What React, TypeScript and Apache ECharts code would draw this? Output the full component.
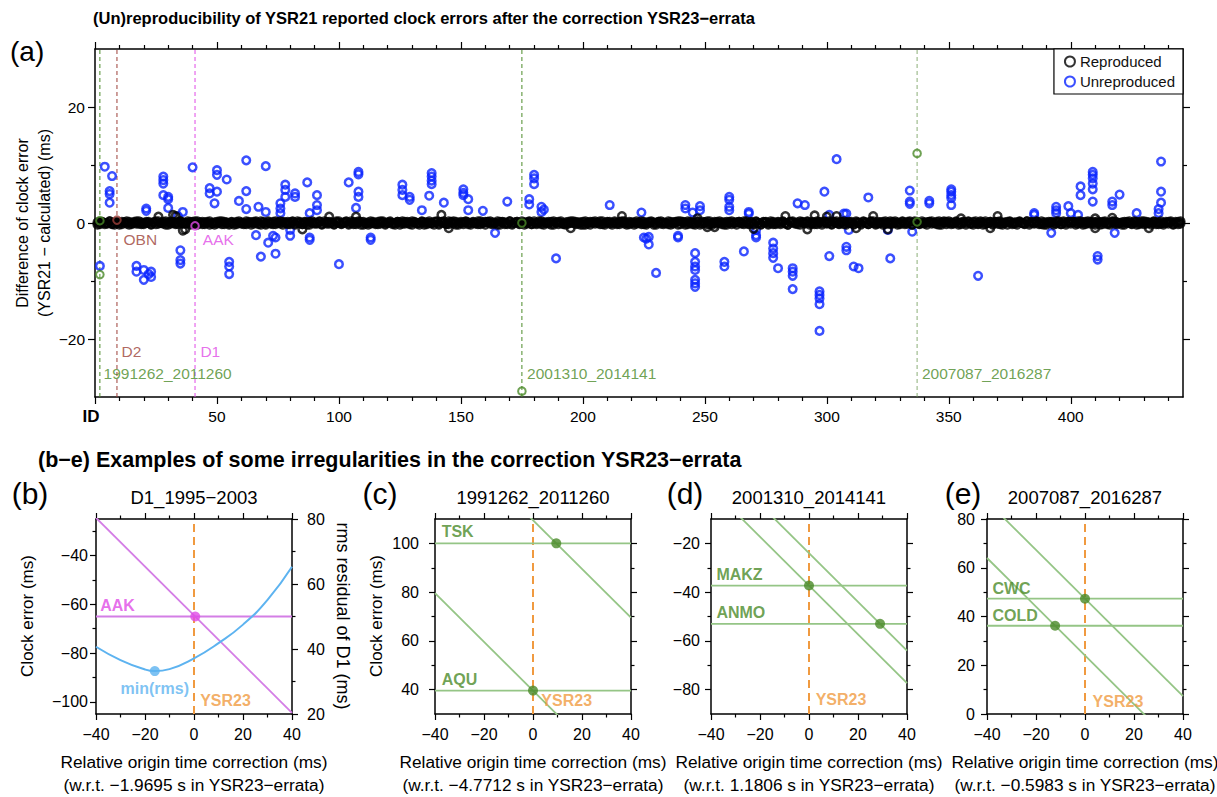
import React, { useEffect, useRef } from "react";
import * as echarts from "echarts";

const FONT = '"Liberation Sans", Arial, Helvetica, sans-serif';
const fmt = (v: number) => String(v).replace("-", "\u2212");

// ================= Panel (a) data =================
const idRange = [0, 446];
const diffRange = [-30, 30];
const idMajorTicks = [0, 50, 100, 150, 200, 250, 300, 350, 400];
const idTickLabels = [50, 100, 150, 200, 250, 300, 350, 400];
const diffMajorTicks = [-20, 0, 20];
const diffMinorTicks = [-10, 10];

// reproduced clock-error differences, first station of each event ID 1..445 (ms)
const reproducedBand = [
  0.1,-0.2,0.2,0,-0.1,0.3,-0.2,0.1,0,-0.3,0.2,0.1,-0.1,0.2,-0.2,0,0.3,-0.1,0.1,-0.2,
  0.2,0,-0.2,0.1,0.3,-0.1,0,0.2,-0.3,0.1,-0.1,0.2,0,-0.2,0.3,0.1,-0.1,0,0.2,-0.2,
  -0.1,0.3,0,-0.2,0.1,0.2,-0.3,0,0.1,-0.1,0.3,-0.2,0.2,0,-0.1,0.1,-0.3,0.2,0,0.1,
  0,-0.2,0.2,0.1,-0.1,0.3,0,-0.3,0.2,-0.1,0.1,0,-0.2,0.3,0.1,-0.1,0.2,0,-0.2,0.1,
  0.3,-0.1,0,0.2,-0.2,0.1,-0.3,0.2,0,0.1,-0.1,0.3,-0.2,0,0.2,-0.1,0.1,-0.2,0.3,0,
  -0.2,0.1,0.3,-0.1,0,0.2,-0.2,0.1,0.2,-0.3,0,0.1,-0.1,0.2,0,-0.2,0.3,0.1,-0.1,0,
  0.1,0,-0.3,0.2,0.1,-0.1,0.2,0,-0.2,0.3,0.1,-0.1,0,0.2,-0.3,0.1,0,-0.1,0.2,0.3,
  -0.1,0.2,0,-0.2,0.3,0.1,-0.1,0.2,-0.3,0,0.1,0.2,-0.2,0,0.1,-0.1,0.3,-0.2,0,0.2,
  0.2,-0.1,0.1,0,-0.3,0.2,0.1,-0.2,0,0.3,-0.1,0.1,0.2,-0.2,0,0.1,-0.1,0.3,-0.2,0,
  0,0.3,-0.2,0.1,0,-0.1,0.2,-0.3,0.1,0.2,0,-0.2,0.1,-0.1,0.3,0,0.2,-0.1,0.1,-0.3,
  -0.3,0.1,0.2,0,-0.1,0.1,0.3,-0.2,0,0.2,-0.1,0,0.1,-0.2,0.2,0.3,-0.1,0,-0.2,0.1,
  0.1,-0.1,0,0.3,-0.2,0,0.2,0.1,-0.3,0,0.2,-0.1,0.1,0,-0.2,0.2,-0.1,0.1,0.3,-0.2,
  0.2,0.1,-0.2,0,0.1,-0.3,0.2,0,-0.1,0.1,0.3,-0.2,0,0.2,-0.1,0,0.1,-0.3,0.2,0,
  -0.2,0,0.1,0.2,-0.1,0.3,0,-0.2,0.1,-0.1,0.2,0,-0.3,0.1,0.2,-0.1,0,0.2,-0.2,0.1,
  0,0.2,-0.1,-0.3,0.2,0.1,0,-0.2,0.3,0.1,-0.1,0.2,0,-0.1,0.1,-0.2,0.2,0,0.3,-0.1,
  0.3,-0.2,0.1,0,-0.1,0.2,-0.2,0.1,0,0.2,-0.3,0.1,0,-0.1,0.2,0.1,-0.2,0.3,0,-0.1,
  -0.1,0.1,0.2,-0.2,0,0.3,-0.1,0,0.1,-0.2,0.2,0,-0.1,0.3,-0.3,0.1,0.2,-0.1,0,0.1,
  0.1,0.2,-0.1,0,0.2,-0.3,0.1,0.3,-0.2,0,0.1,-0.1,0.2,0,-0.2,0.1,0,0.2,-0.1,-0.3,
  0,-0.1,0.3,0.1,-0.2,0,0.2,-0.1,0.1,0.2,-0.2,0,0.1,-0.3,0.2,0,-0.1,0.1,0.2,0,
  -0.2,0.3,0,0.1,-0.1,0.2,0,-0.2,0.1,-0.3,0.2,0.1,0,-0.1,0.3,-0.2,0.1,0,0.2,-0.1,
  0.2,0,-0.1,0.3,0.1,-0.2,0,0.2,-0.1,0.1,0,-0.3,0.2,0.1,-0.2,0,0.3,-0.1,0.1,0,
  0.1,-0.3,0.2,0,-0.1,0.1,0.2,-0.2,0,0.3,-0.1,0.1,0,0.2,-0.2,0.1,-0.1,0,0.2,-0.1,
  0.1,-0.2,0,0.2,-0.1,
];

// reproduced clock-error differences, second station of each event ID 1..445 (ms)
const reproducedBand2 = [
  -0.3,0.2,0.1,-0.2,0,0.3,-0.1,-0.3,0.2,0,-0.2,0.1,0.3,-0.3,0,0.2,-0.1,0.3,-0.2,0,
  0,0.2,-0.3,0.1,-0.2,0.3,0,-0.1,0.3,-0.3,0.2,0,-0.2,0.1,0.3,-0.1,0,0.3,-0.3,0.2,
  0.3,-0.3,0.1,0.2,-0.2,0,0.3,-0.1,-0.3,0.2,0,0.3,-0.2,0.1,-0.3,0.2,0,-0.2,0.3,-0.1,
  -0.2,0.3,0,-0.3,0.2,0.1,-0.2,0.3,0,-0.3,0.3,-0.1,0.2,-0.2,0,0.3,-0.3,0.1,0.2,-0.2,
  0.2,-0.3,0.3,0,-0.2,0.2,0.1,-0.3,0.3,-0.1,0,0.2,-0.3,0.3,-0.1,0.2,0,-0.3,0.1,0.3,
  -0.1,0,0.2,-0.3,0.3,-0.2,0.1,0.3,-0.3,0.2,-0.1,-0.3,0.3,0,-0.2,0.2,-0.1,0.3,-0.3,0.1,
  0.3,-0.2,0,0.2,-0.3,0.3,-0.1,0.2,0.1,-0.3,0.2,0,-0.3,0.3,0.1,-0.2,0.3,0,-0.3,0.2,
  -0.3,0.1,0.3,-0.1,-0.2,0.2,0.3,-0.3,0,0.2,-0.2,0.3,0.1,-0.3,0.2,0,-0.2,0.3,0.1,-0.3,
  0.2,0.3,-0.2,0,0.3,-0.3,0.2,0.1,-0.2,0.3,-0.3,0,0.2,-0.1,0.3,-0.3,0.1,0.2,-0.2,0.3,
  -0.2,0,0.3,-0.3,0.1,0.2,-0.3,0.3,0,-0.2,0.3,-0.1,-0.3,0.2,0,0.3,-0.2,0.1,-0.3,0.2,
  0.3,-0.1,-0.3,0.2,0.3,0,-0.2,0.3,-0.3,0.1,0.2,-0.3,0.3,0,-0.2,0.1,0.3,-0.3,0.2,0,
  -0.3,0.3,0.1,-0.2,0.2,-0.3,0,0.3,0.1,-0.3,0.2,0.3,-0.2,0,0.3,-0.3,0.1,0.2,-0.3,0.3,
  0.1,-0.3,0.3,0.2,-0.2,0,0.3,-0.3,0.2,0.1,-0.2,0.3,-0.3,0,0.2,0.3,-0.2,0.1,-0.3,0.2,
  0.3,0.1,-0.3,0.2,0,-0.2,0.3,-0.1,0.2,-0.3,0.3,0,-0.2,0.2,0.1,-0.3,0.3,-0.2,0,0.2,
  -0.2,0.3,0,-0.3,0.2,0.3,-0.1,0.1,-0.3,0.2,0,0.3,-0.3,0.2,-0.2,0.3,0.1,-0.3,0.2,0,
  0,-0.3,0.2,0.3,-0.2,0.1,0.3,-0.3,0.2,0,-0.2,0.3,0.1,-0.3,0.3,0,-0.2,0.2,0.3,-0.3,
  0.2,0,-0.3,0.3,0.1,-0.2,0.2,0.3,-0.3,0,0.3,-0.2,0.2,0.1,-0.3,0.3,0,-0.2,0.3,-0.1,
  -0.3,0.2,0.3,0,-0.2,0.3,-0.3,0.1,0.2,0.3,-0.2,0,0.3,-0.3,0.1,0.2,-0.3,0.3,-0.1,0.2,
  0.3,-0.2,0.1,-0.3,0.3,0,0.2,-0.3,0.2,-0.1,0.3,-0.3,0,0.2,0.3,-0.2,0.1,-0.3,0.3,0,
  -0.1,0.3,-0.3,0.2,0,0.3,-0.2,0.3,-0.3,0.1,0,0.2,-0.3,0.3,0.1,-0.2,0.3,-0.3,0.2,0.1,
  0.2,-0.3,0.3,0,-0.3,0.2,0.3,-0.1,0.2,-0.3,0.3,0.1,-0.2,0.3,0,-0.3,0.2,0.3,-0.2,0,
  -0.3,0.2,0,0.3,-0.2,0.3,-0.3,0.1,0.3,-0.2,0.2,0,-0.3,0.3,0.1,-0.2,0.3,-0.3,0,0.2,
  0.3,-0.3,0.2,-0.2,0.3,
];

// reproduced points that deviate visibly from the band [ID, ms]
const reproducedOutliers = [
  [26,1.1],[32,1.4],[33,1.2],[37,-1.1],[36,-1.3],[85,-1.1],[96,1.1],[107,1.1],[142,1.4],[145,-0.9],
  [195,-0.9],[216,1.2],[247,0.8],[251,-0.7],[254,-0.7],[270,-1.0],[283,1.2],[292,-1.1],[295,1.3],
  [300,1.1],[304,1.2],[312,-0.9],[319,1.2],[325,-1.1],[355,0.8],[367,-0.9],[370,1.2],[410,-0.9],
  [410,0.8],[417,0.9],[432,-0.9],
];

// unreproduced points [ID, ms]
const unreproduced = [
  [2,-7.4],[4,9.7],[6,5.5],[6,5.0],[6,3.5],[7,8.1],
  [17,-7.4],[17,-8.4],[20,-8.1],[20,-9.8],[22,-8.8],[23,-8.4],[23,-9.3],
  [21,2.5],[21,2.1],[28,8.0],[28,7.4],[28,6.8],[28,4.8],[30,4.5],[30,4.1],[30,2.6],
  [35,-4.7],[35,-6.4],[35,-7.0],[36,1.9],[34,1.2],[40,9.6],
  [47,6.0],[47,5.1],[49,3.4],[50,9.1],[50,8.3],[50,5.4],[54,7.5],
  [55,-6.7],[55,-7.5],[55,-8.8],[59,3.8],[62,10.8],[62,5.5],[62,2.4],
  [66,-2.1],[67,2.8],[68,-5.8],[70,9.8],[70,1.9],[71,-3.4],[73,-2.2],[74,-5.3],[74,-2.5],
  [76,3.4],[76,2.5],[76,1.7],[78,6.6],[78,5.7],[78,4.5],[80,-1.2],[80,-2.2],[82,5.1],[82,4.5],
  [87,7.0],[88,1.7],[88,-2.5],[88,-2.9],[91,4.8],[91,3.1],[91,2.2],[100,-7.1],
  [104,7.0],[107,2.6],[108,8.8],[108,8.4],[108,5.4],[108,4.5],[113,-2.5],[113,-2.9],
  [126,6.6],[126,5.7],[126,4.8],[129,4.5],[129,4.0],[134,2.2],[137,4.7],
  [138,8.6],[138,8.0],[138,7.3],[138,6.7],[143,3.5],[151,5.8],[151,5.2],[151,4.8],
  [153,4.1],[153,2.2],[159,2.1],[164,-1.7],[169,3.7],[178,4.1],[178,3.2],
  [180,8.3],[180,7.7],[180,6.7],[183,2.8],[184,2.3],[183,1.9],[189,-6.1],[211,3.1],
  [224,1.8],[225,-2.5],[226,-2.7],[227,-2.4],[227,-3.7],[230,-8.6],[239,-2.2],[239,-2.5],
  [242,3.1],[242,2.5],[245,1.8],
  [246,-5.2],[246,-6.7],[246,-7.5],[246,-8.1],[246,-9.8],[246,-10.4],[246,-11.0],
  [248,2.9],[248,2.2],[258,-6.7],[258,-7.5],[260,4.5],[260,4.0],[260,2.8],[260,2.2],
  [266,-4.9],[268,1.9],[268,1.6],[271,-1.2],[271,-2.1],[271,-2.5],
  [278,-3.4],[278,-4.4],[278,-5.2],[278,-6.0],[280,-7.8],
  [286,-7.8],[286,-8.4],[286,-9.1],[286,-11.4],[288,3.4],[291,3.1],
  [297,-11.8],[297,-12.4],[297,-13.0],[297,-14.0],[297,-18.6],[299,5.4],
  [301,-5.7],[301,1.4],[304,11.0],[307,1.6],[308,1.6],[308,-4.1],[308,-4.7],[309,-1.2],
  [311,-7.5],[313,-7.8],[317,4.4],[325,-1.2],[326,-6.1],
  [334,5.6],[334,3.7],[334,3.3],[335,-1.5],[342,3.8],[342,3.4],
  [351,5.8],[351,5.4],[351,4.8],[351,4.3],[351,3.1],[362,-9.1],
  [385,1.7],[385,1.4],[392,-1.7],[394,2.8],[394,2.2],[394,1.7],[399,2.9],[400,1.7],[403,1.4],
  [404,6.3],[404,4.8],[409,8.8],[409,8.3],[409,7.7],[409,6.8],[409,5.8],[409,3.7],
  [411,-5.7],[411,-6.3],[417,3.7],[417,3.1],[418,-1.7],[420,4.9],[427,1.7],
  [436,2.4],[436,1.7],[437,10.6],[437,5.4],[437,3.5],
];

// highlighted events / stations
const greenEventPoints = [[2,0.4],[2,-8.9],[175,0],[175,-29],[337,12],[337,0.2]];
const brownEventPoints = [[9,0.5]];
const magentaEventPoints = [[41,-0.5]];
const greenMarkerIds = [2, 175];
const greenMarkerIdsThin = [337];
const brownMarkerIds = [9];
const magentaMarkerIds = [41];
const annotationsA = [
  { name: "OBN", value: [11.5, -2.9], c: "brown" },
  { name: "AAK", value: [44, -2.9], c: "magenta" },
  { name: "D2", value: [10.7, -22.2], c: "brown" },
  { name: "D1", value: [43, -22.2], c: "magenta" },
  { name: "1991262_2011260", value: [3.3, -26], c: "green" },
  { name: "2001310_2014141", value: [176.9, -26], c: "green" },
  { name: "2007087_2016287", value: [338.8, -26], c: "green" },
];

// ================= Panels (b)-(e) data =================
const corrRange = [-40, 40];
const corrMajor = [-40, -20, 0, 20, 40];
const corrMinor = [-30, -10, 10, 30];

// (b) D1_1995-2003
const bClockRange = [-105, -25];
const bClockMajor = [-100, -80, -60, -40];
const bClockMinor = [-90, -70, -50, -30];
const bRmsRange = [20, 80];
const bRmsMajor = [20, 40, 60, 80];
const bRmsMinor = [30, 50, 70];
const aakClock = -65;
const aakLine = [[-40, -24.5], [40, -104.5]];
const aakPoint = [0.5, -65];
const rmsCorrection = [-40, -30, -20, -16, -10, 0, 10, 20, 30, 40];
const rmsValues = [40.7, 36.6, 33.7, 33.2, 33.8, 37.1, 41.8, 47.5, 55.1, 65.3];
const rmsMin = [-16, 33.2];

// (c) 1991262_2011260
const cRange = [30, 110];
const cMajor = [40, 60, 80, 100];
const cMinor = [50, 70, 90];
const cStations = [{ name: "TSK", clock: 100 }, { name: "AQU", clock: 39.6 }];
const cLines = [[[-40, 149.5], [40, 69.5]], [[-40, 79.6], [40, -0.4]]];
const cPoints = [[9.5, 100], [0, 39.6]];

// (d) 2001310_2014141
const dRange = [-90, -10];
const dMajor = [-80, -60, -40, -20];
const dMinor = [-70, -50, -30];
const dStations = [{ name: "MAKZ", clock: -37.3 }, { name: "ANMO", clock: -53 }];
const dLines = [[[-40, 2.7], [40, -77.3]], [[-40, 16], [40, -64]]];
const dPoints = [[0, -37.3], [29, -53]];

// (e) 2007087_2016287
const eRange = [0, 80];
const eMajor = [0, 20, 40, 60, 80];
const eMinor = [10, 30, 50, 70];
const eStations = [{ name: "CWC", clock: 47.3 }, { name: "COLD", clock: 36.2 }];
const eLines = [[[-40, 87.3], [40, 7.3]], [[-40, 64], [40, -16]]];
const ePoints = [[0, 47.3], [-12.2, 36.2]];

// ================= styles =================
const C = {
  blue: "#0a24ff",
  green: "#4a8a28",
  greenLine: "#6f9a55",
  brown: "#9c3f38",
  magenta: "#e04ae6",
  magentaLine: "#d47ee6",
  sky: "#5db3f0",
  orange: "#f09a40",
  lightGreen: "#95c586",
};

function buildOption() {
  const xAxes: any[] = [];
  const yAxes: any[] = [];
  const axis = (list: any[], gridIndex: number, position: string, range: number[], ticks: number[], len: number, o: any = {}) => {
    list.push({
      type: "value",
      gridIndex,
      position,
      min: range[0],
      max: range[1],
      splitLine: { show: false },
      axisPointer: { show: false },
      axisLine: { show: !!o.frame, onZero: false, lineStyle: { color: "#000", width: 1.5 } },
      axisTick: { show: true, customValues: ticks, length: len, lineStyle: { color: "#000", width: 1.2 } },
      axisLabel: o.labels
        ? { show: true, customValues: o.labels, formatter: (v: number) => fmt(v), margin: o.margin ?? 8, fontSize: o.fontSize ?? 15, color: "#000", fontFamily: FONT }
        : { show: false },
    });
    return list.length - 1;
  };

  const grids = [
    { left: 95, top: 49, width: 1088, height: 348 },
    { left: 96, top: 519, width: 196, height: 195 },
    { left: 435, top: 519, width: 196, height: 195 },
    { left: 711, top: 519, width: 196, height: 195 },
    { left: 987, top: 519, width: 196, height: 195 },
  ];

  const idMinor: number[] = [];
  for (let v = 10; v <= 440; v += 10) if (v % 50 !== 0) idMinor.push(v);

  // panel (a) axes
  const ax = axis(xAxes, 0, "bottom", idRange, idMajorTicks, 7, { frame: true, labels: idTickLabels, margin: 11, fontSize: 15.5 });
  axis(xAxes, 0, "bottom", idRange, idMinor, 4);
  axis(xAxes, 0, "top", idRange, idMajorTicks, 7, { frame: true });
  axis(xAxes, 0, "top", idRange, idMinor, 4);
  const ay = axis(yAxes, 0, "left", diffRange, diffMajorTicks, 7, { frame: true, labels: diffMajorTicks, margin: 10, fontSize: 15.5 });
  axis(yAxes, 0, "left", diffRange, diffMinorTicks, 4);
  axis(yAxes, 0, "right", diffRange, diffMajorTicks, 7, { frame: true });
  axis(yAxes, 0, "right", diffRange, diffMinorTicks, 4);

  const series: any[] = [];
  const vline = (xi: number, yi: number, x: number, range: number[], color: string, width: number, dash: number[]) => ({
    type: "line", xAxisIndex: xi, yAxisIndex: yi, data: [[x, range[0]], [x, range[1]]],
    symbol: "none", silent: true, lineStyle: { color, width, type: dash }, z: 2,
  });
  const segLine = (xi: number, yi: number, data: number[][], color: string, width: number, smooth = false) => ({
    type: "line", xAxisIndex: xi, yAxisIndex: yi, data, symbol: "none", silent: true, smooth,
    lineStyle: { color, width }, clip: true, z: 3,
  });
  const ring = (xi: number, yi: number, name: string | undefined, data: number[][], color: string, size = 7.6, z = 4, bw = 2.5) => ({
    type: "scatter", name, xAxisIndex: xi, yAxisIndex: yi, data, symbol: "circle", symbolSize: size,
    itemStyle: { color: "rgba(0,0,0,0)", borderColor: color, borderWidth: bw }, emphasis: { disabled: true }, silent: true, z,
  });
  const dot = (xi: number, yi: number, data: number[][], color: string) => ({
    type: "scatter", xAxisIndex: xi, yAxisIndex: yi, data, symbol: "circle", symbolSize: 10,
    itemStyle: { color }, emphasis: { disabled: true }, silent: true, z: 6,
  });
  const labels = (xi: number, yi: number, items: any[], fontSize: number, bold: boolean, position = "right") => ({
    type: "scatter", xAxisIndex: xi, yAxisIndex: yi, symbolSize: 1, silent: true, z: 7,
    itemStyle: { color: "rgba(0,0,0,0)" },
    data: items.map((it) => ({ name: it.name, value: it.value, label: { color: it.color } })),
    label: { show: true, position, distance: 0, formatter: "{b}", fontSize, fontWeight: bold ? "bold" : "normal", fontFamily: FONT },
  });

  greenMarkerIds.forEach((id) => series.push(vline(ax, ay, id, diffRange, C.green, 1, [4, 3])));
  greenMarkerIdsThin.forEach((id) => series.push(vline(ax, ay, id, diffRange, C.greenLine, 0.8, [4, 3])));
  brownMarkerIds.forEach((id) => series.push(vline(ax, ay, id, diffRange, C.brown, 1, [4, 3])));
  magentaMarkerIds.forEach((id) => series.push(vline(ax, ay, id, diffRange, C.magenta, 1, [4, 3])));

  series.push(ring(ax, ay, "Unreproduced", unreproduced, C.blue));
  const reproduced = reproducedBand
    .map((v, i) => [i + 1, v])
    .concat(reproducedBand2.map((v, i) => [i + 1, v]))
    .concat(reproducedOutliers);
  series.push(ring(ax, ay, "Reproduced", reproduced, "#000", 7.6, 5));
  series.push(ring(ax, ay, undefined, greenEventPoints, C.green, 7.6, 6, 2));
  series.push(ring(ax, ay, undefined, brownEventPoints, C.brown, 7.6, 6, 2));
  series.push(ring(ax, ay, undefined, magentaEventPoints, C.magenta, 7.6, 6, 2));
  series.push(
    labels(ax, ay, annotationsA.map((a) => ({ name: a.name, value: a.value, color: (C as any)[a.c] })), 15.5, false)
  );

  // bottom panels
  const panels = [
    { range: bClockRange, major: bClockMajor, minor: bClockMinor, margin: 8, rms: true },
    { range: cRange, major: cMajor, minor: cMinor, margin: 16 },
    { range: dRange, major: dMajor, minor: dMinor, margin: 11 },
    { range: eRange, major: eMajor, minor: eMinor, margin: 12 },
  ];
  const idx = panels.map((p: any, i) => {
    const g = i + 1;
    const x = axis(xAxes, g, "bottom", corrRange, corrMajor, 6, { frame: true, labels: corrMajor, margin: 12, fontSize: 16 });
    axis(xAxes, g, "bottom", corrRange, corrMinor, 3.5);
    axis(xAxes, g, "top", corrRange, corrMajor, 6, { frame: true });
    axis(xAxes, g, "top", corrRange, corrMinor, 3.5);
    const y = axis(yAxes, g, "left", p.range, p.major, 6, { frame: true, labels: p.major, margin: p.margin, fontSize: 16 });
    axis(yAxes, g, "left", p.range, p.minor, 3.5);
    let y2 = -1;
    if (p.rms) {
      y2 = axis(yAxes, g, "right", bRmsRange, bRmsMajor, 6, { frame: true, labels: bRmsMajor, margin: 15, fontSize: 16 });
      axis(yAxes, g, "right", bRmsRange, bRmsMinor, 3.5);
    } else {
      axis(yAxes, g, "right", p.range, p.major, 6, { frame: true });
      axis(yAxes, g, "right", p.range, p.minor, 3.5);
    }
    series.push(vline(x, y, 0, p.range, C.orange, 2, [8, 5]));
    return { x, y, y2 };
  });

  // (b)
  {
    const { x, y, y2 } = idx[0];
    series.push(segLine(x, y, [[corrRange[0], aakClock], [corrRange[1], aakClock]], C.magentaLine, 1.8));
    series.push(segLine(x, y, aakLine, C.magentaLine, 1.8));
    series.push(segLine(x, y2, rmsCorrection.map((c, i) => [c, rmsValues[i]]), C.sky, 2, true));
    series.push(dot(x, y2, [rmsMin], C.sky));
    series.push(dot(x, y, [aakPoint], C.magenta));
    series.push(labels(x, y, [{ name: "AAK", value: [-38.5, -60.5], color: C.magenta }, { name: "YSR23", value: [2.3, -99.5], color: C.orange }], 16, true));
    series.push(labels(x, y2, [{ name: "min(rms)", value: [-16, 28], color: C.sky }], 16, true, "inside"));
  }
  const stationPanel = (k: number, stations: any[], lines: number[][][], pts: number[][], labelPos: number[][], ysrPos: number[]) => {
    const { x, y } = idx[k];
    stations.forEach((s) => series.push(segLine(x, y, [[corrRange[0], s.clock], [corrRange[1], s.clock]], C.lightGreen, 1.8)));
    lines.forEach((l) => series.push(segLine(x, y, l, C.lightGreen, 1.8)));
    series.push(dot(x, y, pts, C.green));
    series.push(
      labels(x, y, stations.map((s, i) => ({ name: s.name, value: labelPos[i], color: C.green })).concat([{ name: "YSR23", value: ysrPos, color: C.orange }]), 16, true)
    );
  };
  stationPanel(1, cStations, cLines, cPoints, [[-37.5, 104.7], [-37.5, 44.1]], [3.2, 35.6]);
  stationPanel(2, dStations, dLines, dPoints, [[-38, -32.8], [-38, -48.4]], [2.5, -84.2]);
  stationPanel(3, eStations, eLines, ePoints, [[-38, 51.6], [-38, 40.6]], [2.9, 5.0]);

  const T = (text: string, x: number, y: number, font: string, o: any = {}) => ({
    type: "text", x, y, rotation: o.rotation || 0, silent: true, z: 10,
    style: {
      text, font, fill: o.fill || "#000",
      textAlign: o.align || "center", align: o.align || "center",
      textVerticalAlign: "middle", verticalAlign: "middle",
      lineHeight: o.lineHeight,
    },
  });
  const graphics: any[] = [
    T("(a)", 10, 51, `28px ${FONT}`, { align: "left" }),
    T("(Un)reproducibility of YSR21 reported clock errors after the correction YSR23\u2212errata", 93, 18, `bold 16.5px ${FONT}`, { align: "left" }),
    T("ID", 91, 416, `bold 17px ${FONT}`),
    T("Difference of clock error\n(YSR21 \u2212 calculated) (ms)", 33, 223, `16px ${FONT}`, { rotation: Math.PI / 2, lineHeight: 22 }),
    T("(b\u2212e) Examples of some irregularities in the correction YSR23\u2212errata", 38, 460, `bold 21.5px ${FONT}`, { align: "left" }),
    T("Clock error (ms)", 27, 616, `17px ${FONT}`, { rotation: Math.PI / 2 }),
    T("rms residual of D1 (ms)", 343, 616, `18px ${FONT}`, { rotation: -Math.PI / 2 }),
    T("Clock error (ms)", 376, 616, `17px ${FONT}`, { rotation: Math.PI / 2 }),
  ];
  const letters = ["(b)", "(c)", "(d)", "(e)"];
  const letterX = [30, 380, 685, 963];
  const subtitles = ["D1_1995\u22122003", "1991262_2011260", "2001310_2014141", "2007087_2016287"];
  const refs = ["\u22121.9695", "\u22124.7712", "1.1806", "\u22120.5983"];
  for (let i = 0; i < 4; i++) {
    const g = grids[i + 1];
    const cx = g.left + g.width / 2;
    graphics.push(T(letters[i], letterX[i], 493, `30px ${FONT}`));
    graphics.push(T(subtitles[i], cx, 497, `18.5px ${FONT}`));
    graphics.push(T("Relative origin time correction (ms)", cx, 762, `17.3px ${FONT}`));
    graphics.push(T(`(w.r.t. ${refs[i]} s in YSR23\u2212errata)`, cx, 785, `17.3px ${FONT}`));
  }

  return {
    animation: false,
    backgroundColor: "#fff",
    textStyle: { fontFamily: FONT },
    grid: grids,
    xAxis: xAxes,
    yAxis: yAxes,
    legend: {
      show: true,
      orient: "vertical",
      right: 34,
      top: 49,
      selectedMode: false,
      backgroundColor: "#fff",
      borderColor: "#000",
      borderWidth: 1.2,
      borderRadius: 0,
      padding: [5, 8, 5, 10],
      itemGap: 5,
      itemWidth: 10,
      itemHeight: 10,
      textStyle: { fontSize: 15, color: "#111", fontFamily: FONT },
      data: [
        { name: "Reproduced", icon: "circle", itemStyle: { color: "rgba(0,0,0,0)", borderColor: "#000", borderWidth: 2 } },
        { name: "Unreproduced", icon: "circle", itemStyle: { color: "rgba(0,0,0,0)", borderColor: C.blue, borderWidth: 2 } },
      ],
      z: 20,
    },
    series,
    graphic: graphics,
  };
}

export default function App() {
  const ref = useRef<HTMLDivElement>(null);
  useEffect(() => {
    if (!ref.current) return;
    const chart = echarts.init(ref.current, undefined, { renderer: "svg" });
    chart.setOption(buildOption() as any);
    return () => chart.dispose();
  }, []);
  return <div ref={ref} style={{ position: "absolute", left: 0, top: 0, width: 1217, height: 797 }} />;
}
